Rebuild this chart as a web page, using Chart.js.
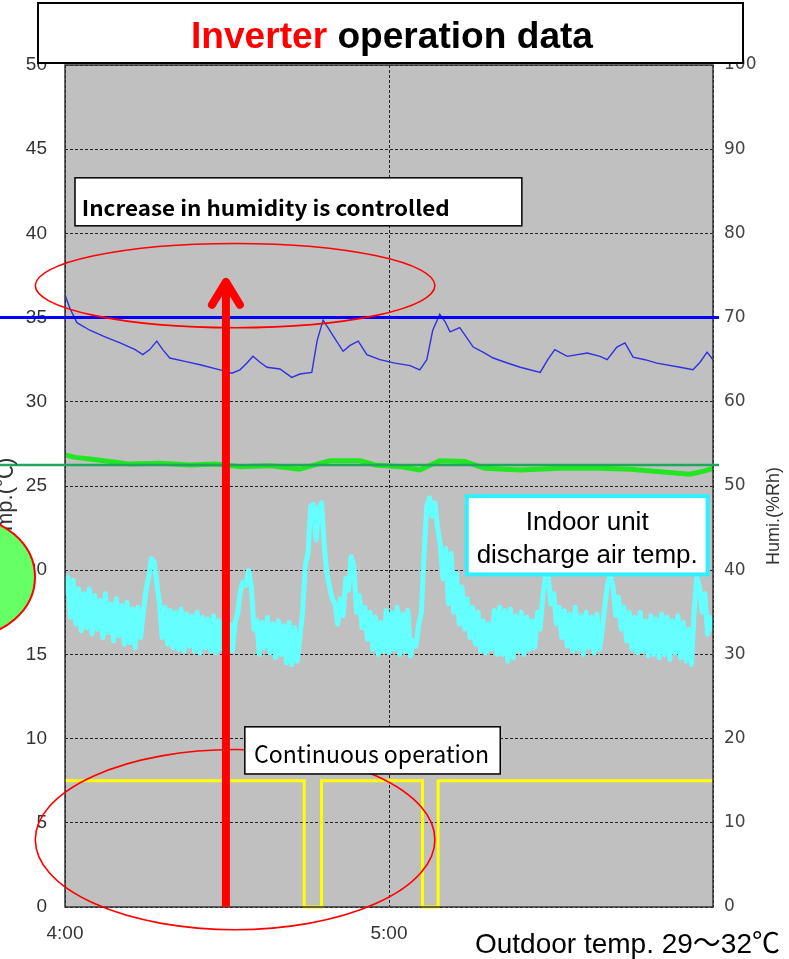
<!DOCTYPE html>
<html>
<head>
<meta charset="utf-8">
<title>Inverter operation data</title>
<script src="https://cdn.jsdelivr.net/npm/chart.js@4.4.1/dist/chart.umd.min.js"></script>
<style>
  html, body { margin: 0; padding: 0; background: #fff; }
  #wrap { width: 789px; height: 959px; }
</style>
</head>
<body>
<div id="wrap"><canvas id="chart" width="789" height="959"></canvas></div>
<script>
// --- данные ---
// ось времени в минутах от 4:00
const timeTicks = [0, 60, 120];
const timeTickLabels = ['4:00', '5:00', ''];

// температура выходящего воздуха (°C), отсчёт каждые 0.5 мин
const dischargeStep = 0.5;
const dischargeTemp = [
  18.5, 19.6, 17.2, 19.4, 16.8, 18.9, 16.4, 18.6, 16.6, 18.9, 16.2, 18.5, 16.5, 18.2, 16.0, 18.6, 16.3, 18.0, 15.8, 18.3,
  16.1, 17.9, 15.6, 18.1, 15.7, 17.7, 15.4, 17.8, 16.0, 17.5, 18.8, 19.6, 20.7, 20.5, 19.2, 18.0, 16.0, 17.8, 15.6, 17.6,
  15.4, 17.5, 15.3, 17.7, 15.2, 17.4, 15.5, 17.3, 15.2, 17.5, 15.1, 17.2, 15.4, 17.1, 15.2, 17.3, 15.1, 17.0, 15.3, 17.2,
  15.1, 16.8, 15.2, 16.9, 17.5, 18.8, 19.3, 19.1, 20.0, 19.0, 16.5, 17.0, 15.0, 16.9, 15.4, 17.2, 15.1, 16.8, 14.8, 17.0,
  15.0, 16.7, 14.5, 16.9, 14.4, 16.6, 14.6, 16.0, 17.5, 20.3, 21.0, 23.8, 23.9, 21.8, 23.7, 24.0, 21.5, 19.8, 19.0, 18.3,
  18.0, 16.8, 18.3, 17.3, 19.5, 18.8, 20.8, 20.2, 17.5, 18.5, 16.6, 17.8, 15.9, 17.5, 15.3, 17.2, 15.0, 16.9, 15.2, 17.6,
  15.1, 17.5, 15.3, 17.8, 15.0, 17.4, 15.2, 17.6, 14.9, 15.8, 15.5, 16.8, 17.5, 21.0, 23.8, 24.3, 23.2, 24.0, 22.5, 21.5,
  19.5, 21.3, 18.0, 21.0, 17.5, 19.8, 16.8, 19.0, 16.5, 18.3, 16.0, 17.8, 15.6, 17.5, 15.2, 17.0, 15.1, 16.8, 15.3, 17.6,
  15.0, 17.8, 15.0, 17.6, 14.6, 17.7, 14.8, 17.3, 15.2, 17.5, 15.0, 17.2, 15.3, 17.0, 15.4, 17.5, 16.5, 18.5, 19.7, 19.5,
  18.0, 18.6, 16.8, 17.8, 16.0, 17.6, 15.5, 17.4, 15.2, 17.8, 15.3, 17.3, 15.0, 17.5, 15.4, 17.2, 15.1, 17.4, 15.3, 16.5,
  18.0, 19.2, 19.7, 19.0, 17.3, 18.4, 16.5, 17.8, 15.8, 17.5, 15.3, 17.2, 15.1, 17.5, 15.2, 17.0, 14.9, 17.3, 15.0, 17.1,
  14.8, 17.4, 15.0, 17.2, 14.7, 17.0, 15.1, 17.3, 14.8, 16.9, 14.6, 16.5, 14.4, 17.5, 19.6, 19.0, 17.5, 18.6, 16.2, 17.2,
  16.4
];

// влажность в помещении (%Rh), тонкая синяя
const humiTime = [0, 0.9, 2.2, 4.6, 7.4, 10.2, 13.0, 14.4, 15.7, 17.0, 18.1, 19.4, 22.2, 25.0, 28.7, 30.9, 32.4, 33.7,
  34.8, 36.1, 37.4, 39.8, 42.0, 43.5, 45.7, 46.7, 47.8, 48.7, 49.6, 51.5, 52.8, 54.3, 55.9, 58.3, 61.1, 63.9, 65.7,
  67.0, 68.1, 69.4, 70.4, 71.3, 73.1, 75.6, 77.4, 79.3, 81.5, 84.3, 88.0, 89.4, 90.7, 93.0, 96.7, 99.1, 100.4, 102.2,
  103.7, 105.2, 107.4, 109.6, 113.9, 116.3, 117.6, 118.9, 120];
const humiValue = [72.7, 71.1, 69.4, 68.5, 67.7, 67.0, 66.2, 65.6, 66.2, 67.2, 66.2, 65.2, 64.8, 64.4, 63.8, 63.4, 63.8, 64.6,
  65.4, 64.7, 64.1, 63.9, 62.9, 63.3, 63.5, 67.3, 69.7, 68.8, 67.9, 66.0, 66.7, 67.2, 65.6, 65.0, 64.6, 64.3, 63.8,
  65.0, 68.5, 70.4, 69.5, 68.3, 68.8, 66.5, 65.9, 65.2, 64.7, 64.1, 63.5, 65.0, 66.2, 65.4, 65.8, 65.4, 65.0, 66.5,
  67.0, 65.3, 65.0, 64.6, 64.1, 63.8, 64.7, 65.9, 65.0];

// вторая кривая влажности (%Rh), толстая зелёная
const humi2Time = [0, 1.9, 4.6, 8.3, 12.0, 17.6, 23.1, 27.8, 32.4, 38.0, 43.5, 46.3, 49.1, 54.6, 57.4, 62.0, 65.7, 69.4,
  74.1, 77.8, 84.3, 91.7, 99.1, 104.6, 110.2, 115.7, 118.5, 120];
const humi2Value = [53.7, 53.4, 53.2, 52.9, 52.6, 52.7, 52.5, 52.6, 52.3, 52.4, 52.0, 52.5, 53.0, 53.0, 52.5, 52.3, 51.9, 53.0,
  52.9, 52.1, 51.9, 52.1, 52.1, 52.0, 51.7, 51.4, 51.8, 52.1];

// сигнал работы компрессора
const runTime = [0, 44.3, 44.3, 47.5, 47.5, 66.2, 66.2, 69.1, 69.1, 120];
const runValue = [7.5, 7.5, 0, 0, 7.5, 7.5, 0, 0, 7.5, 7.5];

const tempLimit = 35;     // синяя линия, °C
const humiLimit = 52.5;   // зелёная линия, %Rh

const toXY = (xs, ys) => xs.map((x, i) => ({ x: x, y: ys[i] }));

// --- текст, растянутый до нужной ширины ---
function fitText(ctx, txt, x, y, w, font, color) {
  ctx.save();
  ctx.font = font;
  const m = ctx.measureText(txt).width;
  ctx.translate(x, y);
  ctx.scale(w / m, 1);
  ctx.fillStyle = color;
  ctx.textAlign = 'left';
  ctx.textBaseline = 'alphabetic';
  ctx.fillText(txt, 0, 0);
  ctx.restore();
}

function box(ctx, x1, y1, x2, y2, stroke, lw) {
  ctx.save();
  ctx.fillStyle = '#fff';
  ctx.fillRect(x1, y1, x2 - x1, y2 - y1);
  ctx.strokeStyle = stroke;
  ctx.lineWidth = lw;
  ctx.strokeRect(x1, y1, x2 - x1, y2 - y1);
  ctx.restore();
}

const decor = {
  id: 'decor',
  beforeDraw(c) {
    const { ctx, chartArea: a } = c;
    ctx.save();
    ctx.fillStyle = '#c0c0c0';
    ctx.fillRect(a.left, a.top, a.width, a.height);
    ctx.restore();
  },
  afterDraw(c) {
    const { ctx, chartArea: a } = c;
    const xs = c.scales.x, yT = c.scales.yT, yH = c.scales.yH;
    const px = v => xs.getPixelForValue(v);
    const pt = v => yT.getPixelForValue(v);

    ctx.save();
    // рамка области построения
    ctx.strokeStyle = '#333';
    ctx.lineWidth = 1.5;
    ctx.strokeRect(a.left, a.top, a.width, a.height);

    // опорные линии
    ctx.lineWidth = 3;
    ctx.strokeStyle = '#0000ff';
    ctx.beginPath();
    ctx.moveTo(0, pt(tempLimit));
    ctx.lineTo(a.right + 6, pt(tempLimit));
    ctx.stroke();
    ctx.lineWidth = 2.5;
    ctx.strokeStyle = '#1fa85c';
    ctx.beginPath();
    ctx.moveTo(0, yH.getPixelForValue(humiLimit));
    ctx.lineTo(a.right + 6, yH.getPixelForValue(humiLimit));
    ctx.stroke();

    // красные овалы
    ctx.strokeStyle = '#ff0000';
    ctx.lineWidth = 1.6;
    ctx.beginPath();
    ctx.ellipse(px(31.5), pt(36.9), px(37) - px(0), pt(0) - pt(2.5), 0, 0, Math.PI * 2);
    ctx.stroke();
    ctx.beginPath();
    ctx.ellipse(px(31.5), pt(4.0), px(37) - px(0), pt(0) - pt(5.35), 0, 0, Math.PI * 2);
    ctx.stroke();

    // стрелка
    const ax = px(29.8), tip = pt(37.3);
    ctx.strokeStyle = '#ff0000';
    ctx.lineWidth = 8;
    ctx.lineCap = 'butt';
    ctx.beginPath();
    ctx.moveTo(ax, pt(0));
    ctx.lineTo(ax, tip + 2);
    ctx.stroke();
    ctx.lineCap = 'round';
    ctx.lineJoin = 'round';
    ctx.beginPath();
    ctx.moveTo(ax - 14, tip + 26);
    ctx.lineTo(ax, tip + 3);
    ctx.lineTo(ax + 14, tip + 26);
    ctx.stroke();
    ctx.restore();

    // подписи в рамках
    box(ctx, px(1.85), pt(43.3), px(84.6), pt(40.45), '#000', 1.5);
    fitText(ctx, 'Increase in humidity is controlled', px(3.1), pt(41.05), 368,
      "bold 21px 'Noto Sans CJK JP', sans-serif", '#000');

    box(ctx, px(33.3), pt(10.7), px(80.6), pt(7.9), '#000', 1.5);
    fitText(ctx, 'Continuous operation', px(35.0), pt(8.55), 235,
      "24px 'Noto Sans CJK JP', sans-serif", '#000');

    box(ctx, px(74.4), pt(24.4), px(119.0), pt(19.75), '#2ef0ff', 4);
    ctx.save();
    ctx.fillStyle = '#000';
    ctx.font = "26px 'Liberation Sans', Arial, sans-serif";
    ctx.textAlign = 'center';
    ctx.fillText('Indoor unit', px(96.7), 530);
    ctx.fillText('discharge air temp.', px(96.7), 563);
    ctx.restore();

    // заголовок
    box(ctx, 38, 3, 743, 63, '#000', 2);
    ctx.save();
    ctx.font = "bold 37px 'Liberation Sans', Arial, sans-serif";
    const w1 = ctx.measureText('Inverter ').width;
    const w2 = ctx.measureText('operation data').width;
    const k = 402 / (w1 + w2);
    ctx.translate(191, 48);
    ctx.scale(k, 1);
    ctx.textBaseline = 'alphabetic';
    ctx.fillStyle = '#ff0000';
    ctx.fillText('Inverter ', 0, 0);
    ctx.fillStyle = '#000';
    ctx.fillText('operation data', w1, 0);
    ctx.restore();

    // наружная температура
    fitText(ctx, 'Outdoor temp. 29～32℃', 475, 953, 305,
      "28px 'Liberation Sans', 'Noto Sans CJK JP', sans-serif", '#000');

    // подписи осей
    ctx.save();
    ctx.fillStyle = '#333';
    ctx.font = "22px 'Liberation Sans', 'Noto Sans CJK JP', sans-serif";
    ctx.textAlign = 'center';
    ctx.textBaseline = 'middle';
    ctx.translate(6, 506);
    ctx.rotate(-Math.PI / 2);
    ctx.fillText('Temp.(℃)', 0, 0);
    ctx.restore();
    ctx.save();
    ctx.fillStyle = '#333';
    ctx.font = "18px 'Liberation Sans', sans-serif";
    ctx.textAlign = 'center';
    ctx.textBaseline = 'middle';
    ctx.translate(774, 516);
    ctx.rotate(-Math.PI / 2);
    ctx.fillText('Humi.(%Rh)', 0, 0);
    ctx.restore();

    // зелёный овал слева
    ctx.save();
    ctx.fillStyle = '#66ff66';
    ctx.strokeStyle = '#ff0000';
    ctx.lineWidth = 2;
    ctx.beginPath();
    ctx.ellipse(-35, 577, 70, 60, 0, 0, Math.PI * 2);
    ctx.fill();
    ctx.stroke();
    ctx.restore();
  }
};

const tickFont = { family: "'Liberation Sans', Arial, sans-serif", size: 19 };

new Chart(document.getElementById('chart'), {
  type: 'line',
  data: {
    datasets: [
      {
        label: 'Indoor unit discharge air temp.',
        data: dischargeTemp.map((v, i) => ({ x: i * dischargeStep, y: v })),
        yAxisID: 'yT', borderColor: '#66ffff', borderWidth: 5,
        borderJoinStyle: 'round', pointRadius: 0, tension: 0
      },
      {
        label: 'Humi. 2',
        data: toXY(humi2Time, humi2Value),
        yAxisID: 'yH', borderColor: '#22e622', borderWidth: 5,
        borderJoinStyle: 'round', pointRadius: 0, tension: 0
      },
      {
        label: 'Humi.',
        data: toXY(humiTime, humiValue),
        yAxisID: 'yH', borderColor: '#3030e0', borderWidth: 1.4,
        pointRadius: 0, tension: 0
      },
      {
        label: 'Operation',
        data: toXY(runTime, runValue),
        yAxisID: 'yT', borderColor: '#ffff00', borderWidth: 3,
        pointRadius: 0, tension: 0, clip: 4
      }
    ]
  },
  options: {
    responsive: false,
    animation: false,
    layout: { padding: { top: 65 } },
    plugins: { legend: { display: false }, tooltip: { enabled: false } },
    scales: {
      x: {
        type: 'linear', min: 0, max: 120,
        afterBuildTicks: s => { s.ticks = timeTicks.map(v => ({ value: v })); },
        afterFit: s => { s.height = 52; },
        ticks: {
          autoSkip: false, maxRotation: 0, padding: 15, color: '#333', font: tickFont,
          callback: v => timeTickLabels[timeTicks.indexOf(v)] ?? ''
        },
        grid: { color: '#222', lineWidth: 1, drawTicks: false },
        border: { display: false, dash: [3, 2] }
      },
      yT: {
        position: 'left', min: 0, max: 50,
        afterFit: s => { s.width = 65; },
        ticks: { stepSize: 5, padding: 18, color: '#333', font: tickFont },
        grid: { color: '#222', lineWidth: 1, drawTicks: false },
        border: { display: false, dash: [3, 2] }
      },
      yH: {
        position: 'right', min: 0, max: 100,
        afterFit: s => { s.width = 76; },
        ticks: { stepSize: 10, padding: 11, color: '#444',
          font: { family: "'DejaVu Sans', sans-serif", size: 17 } },
        grid: { display: false, drawTicks: false },
        border: { display: false }
      }
    }
  },
  plugins: [decor]
});
</script>
</body>
</html>
